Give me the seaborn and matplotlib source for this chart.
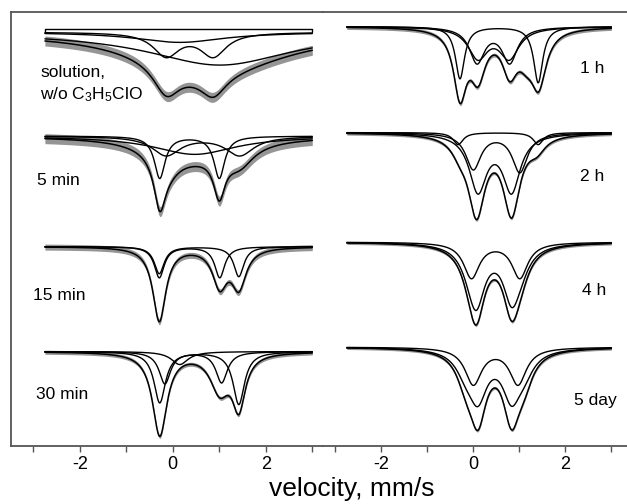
import numpy as np
import matplotlib
matplotlib.use('Agg')
import matplotlib.pyplot as plt
import seaborn as sns

# velocity window of the measured spectra, mm/s
v_min, v_max = -2.75, 3.0

# every curve is a set of lorentzian lines: (centre mm/s, hwhm mm/s, depth)
# ---- left column ----
sol_total = [(-0.14, 0.34, 28), (0.87, 0.34, 22), (0.15, 1.18, 10.3), (1.01, 1.91, 33)]
sol_parts = [[(-0.14, 0.34, 23.3), (0.87, 0.34, 23.3)],
             [(0.15, 1.18, 10.3)],
             [(1.01, 1.91, 33)]]

min5_total = [(-0.28, 0.15, 45), (1.0, 0.15, 40), (-0.14, 0.37, 19), (1.44, 0.37, 19), (0.47, 1.08, 18.3)]
min5_parts = [[(-0.28, 0.14, 42), (1.0, 0.14, 42)],
              [(-0.14, 0.37, 19), (1.44, 0.37, 19)],
              [(0.47, 1.08, 18.3)]]

min15_total = [(-0.29, 0.17, 74), (1.01, 0.19, 37), (1.42, 0.19, 38.5)]
min15_parts = [[(-0.29, 0.13, 31), (1.01, 0.13, 31)],
               [(-0.29, 0.13, 27), (1.42, 0.13, 30)]]

min30_total = [(-0.28, 0.19, 83), (1.42, 0.17, 52), (1.01, 0.25, 37)]
min30_parts = [[(-0.17, 0.15, 32), (1.05, 0.15, 31)],
               [(-0.28, 0.15, 51), (1.42, 0.15, 52.7)],
               [(0.15, 0.22, 13)]]

# ---- right column ----
h1_total = [(-0.29, 0.17, 65), (0.10, 0.2, 45), (0.79, 0.2, 40), (1.15, 0.22, 20), (1.42, 0.2, 52)]
h1_parts = [[(-0.29, 0.12, 52), (1.41, 0.12, 56)],
            [(0.08, 0.2, 35), (0.79, 0.2, 35)],
            [(0.10, 0.26, 30), (0.78, 0.26, 30)]]

h2_total = [(0.07, 0.22, 77.5), (0.83, 0.22, 77.5), (-0.29, 0.22, 12), (1.38, 0.22, 12)]
h2_parts = [[(0.10, 0.23, 56.5), (0.83, 0.23, 56.5)],
            [(0.0, 0.2, 36), (1.01, 0.2, 39)],
            [(-0.33, 0.13, 12), (1.41, 0.13, 12)]]

h4_total = [(0.07, 0.22, 58), (0.83, 0.22, 58), (-0.04, 0.26, 22), (1.01, 0.26, 22)]
h4_parts = [[(0.07, 0.22, 48), (0.83, 0.22, 48), (-0.04, 0.26, 18), (1.01, 0.26, 18)],
            [(-0.04, 0.21, 35.4), (1.01, 0.21, 35.4)]]

d5_total = [(0.10, 0.22, 65), (0.83, 0.22, 65), (-0.16, 0.24, 25), (1.10, 0.24, 25)]
d5_parts = [[(0.10, 0.24, 45), (0.83, 0.24, 45), (-0.16, 0.26, 18), (1.10, 0.26, 18)],
            [(0.0, 0.22, 36.6), (0.97, 0.22, 36.6)]]

# scatter of the experimental points around the fit (half width of grey band)
noise_left = [5, 5, 3, 2]
noise_right = [2, 1.6, 1.5, 1.5]

labels_left = ['solution,\nw/o C$_3$H$_5$ClO', '5 min', '15 min', '30 min']
labels_right = ['1 h', '2 h', '4 h', '5 day']


def lorentz(v, lines):
    out = np.zeros_like(v)
    for c, g, a in lines:
        out += a / (1 + ((v - c) / g) ** 2)
    return out


sns.set_style('white')
plt.rcParams['font.family'] = ['Liberation Sans', 'DejaVu Sans']
plt.rcParams['axes.unicode_minus'] = False
plt.rcParams['mathtext.default'] = 'regular'
plt.rcParams['text.color'] = 'black'
plt.rcParams['xtick.labelcolor'] = 'black'

fig = plt.figure(figsize=(6.27, 5.04), dpi=100)
ax1 = fig.add_axes([0.0175, 0.115, 0.4976, 0.861])
ax2 = fig.add_axes([0.515, 0.115, 0.485, 0.861])

v = np.linspace(v_min, v_max, 700)

left = [(sol_total, sol_parts), (min5_total, min5_parts),
        (min15_total, min15_parts), (min30_total, min30_parts)]
right = [(h1_total, h1_parts), (h2_total, h2_parts),
         (h4_total, h4_parts), (d5_total, d5_parts)]
base_left = [414, 310, 199.5, 94.5]
base_right = [419.5, 313.5, 204, 99]


def draw(ax, spectra, bases, noise):
    for (total, parts), b, n in zip(spectra, bases, noise):
        fit = b - lorentz(v, total)
        ax.fill_between(v, fit - n, fit + n, color='#959595', lw=0)
        for p in parts:
            sns.lineplot(x=v, y=b - lorentz(v, p), ax=ax, color='black',
                         lw=1.0, estimator=None)
        sns.lineplot(x=v, y=fit, ax=ax, color='black', lw=1.1, estimator=None)


draw(ax1, left, base_left, noise_left)
draw(ax2, right, base_right, noise_right)

# baseline box of the first spectrum
b = base_left[0]
ax1.plot([v_min, v_min, v_max, v_max], [b, b + 3.5, b + 3.5, b], color='black', lw=1.0)

ax1.set_xlim(-3.48, 3.23)
ax2.set_xlim(-3.27, 3.34)
for ax in (ax1, ax2):
    ax.set_ylim(0, 434)
    ax.set_yticks([])
    ax.set_ylabel('')
    ax.set_xticks([-2, 0, 2])
    ax.set_xticklabels(['-2', '0', '2'])
    ax.set_xticks([-3, -1, 1, 3], minor=True)
    ax.tick_params(axis='x', which='both', direction='out', length=4, width=1,
                   color='#555555', labelcolor='black', labelsize=13, pad=3, bottom=True)
    for s in ax.spines.values():
        s.set_color('#555555')
        s.set_linewidth(1.3)
    ax.spines['right'].set_visible(False)
ax2.spines['left'].set_visible(False)

# spectrum labels
pos_left = [(0.093, 0.833), (0.083, 0.613), (0.071, 0.348), (0.080, 0.118)]
pos_right = [(0.845, 0.871), (0.845, 0.622), (0.852, 0.359), (0.826, 0.106)]
for t, (x, y) in zip(labels_left, pos_left):
    ax1.text(x, y, t, transform=ax1.transAxes, fontsize=12.5,
             ha='left', va='center', linespacing=1.4)
for t, (x, y) in zip(labels_right, pos_right):
    ax2.text(x, y, t, transform=ax2.transAxes, fontsize=12.5, ha='left', va='center')

fig.text(0.561, 0.03, 'velocity, mm/s', ha='center', va='center', fontsize=19)

fig.savefig('out.png', dpi=100)
